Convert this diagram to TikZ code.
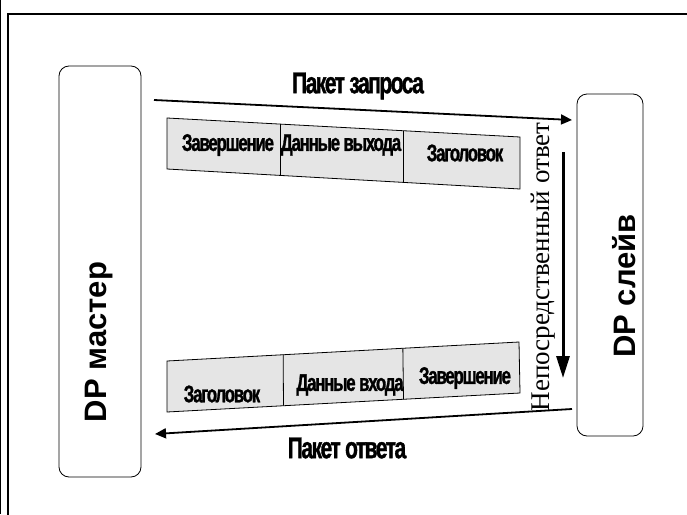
\documentclass[tikz,border=0pt]{standalone}
\usepackage{fontspec}
\setmainfont{Liberation Serif}
\newfontfamily\narrowfont[FakeStretch=0.7,LetterSpace=-5,BoldFeatures={FakeBold=1.2}]{Liberation Sans}
\newfontfamily\headfont{Liberation Sans}
\usetikzlibrary{positioning}
\usetikzlibrary{calc}
\usetikzlibrary{arrows.meta}

\tikzset{
	station/.style={rectangle, rounded corners=10pt, draw=black, line width=0.8pt},
	stationText/.style={rotate=90, inner sep=0pt, font=\headfont\bfseries\fontsize{31}{31}\selectfont},
	packet/.style={fill=gray!20, draw=black, line width=0.8pt},
	field/.style={inner sep=0pt, font=\narrowfont\bfseries\fontsize{24}{24}\selectfont},
	packetTitle/.style={inner sep=0pt, font=\narrowfont\bfseries\fontsize{30}{30}\selectfont},
	flow/.style={line width=1.8pt, -{Triangle[length=11pt, width=10pt]}}
}

\begin{document}
\begin{tikzpicture}[x=1pt, y=-1pt]
		\clip (0,0) rectangle (687,514);

		% frame
		\draw[line width=0.8pt] (0.7,0) -- (0.7,514);
		\draw[line width=2pt] (8,530) -- (8,14) -- (700,14);

		\node[station, minimum width=82pt, minimum height=411pt](master) at (100,271.5){};
		\node[station, minimum width=66pt, minimum height=342pt](slave) at (610,265){};
		\node[stationText](masterText) at (99,342){DP мастер};
		\node[stationText](slaveText) at (624,286){DP слейв};

		% packet outlines
		\coordinate (outTL) at (167,118);
		\coordinate (outTR) at (520,137);
		\coordinate (outBR) at (520,189);
		\coordinate (outBL) at (167,169);
		\coordinate (inTL) at (167,361);
		\coordinate (inTR) at (519,342);
		\coordinate (inBR) at (520,393);
		\coordinate (inBL) at (167,412);

		\draw[packet] (outTL) -- (outTR) -- (outBR) -- (outBL) -- cycle;
		\draw[packet] (inTL) -- (inTR) -- (inBR) -- (inBL) -- cycle;

		% field borders
		\draw[line width=0.8pt] ($(outTL)!0.32!(outTR)$) -- ($(outBL)!0.32!(outBR)$);
		\draw[line width=0.8pt] ($(outTL)!0.669!(outTR)$) -- ($(outBL)!0.669!(outBR)$);
		\draw[line width=0.8pt] ($(inTL)!0.33!(inTR)$) -- ($(inBL)!0.33!(inBR)$);
		\draw[line width=0.8pt] ($(inTL)!0.67!(inTR)$) -- ($(inBL)!0.67!(inBR)$);

		\node[field](outEnd) at (228,145){Завершение};
		\node[field](outData) at (341,145){Данные выхода};
		\node[field](outHead) at (465,153){Заголовок};
		\node[field](inHead) at (222,394){Заголовок};
		\node[field](inData) at (350,385){Данные входа};
		\node[field](inEnd) at (465,378){Завершение};

		\node[packetTitle](reqText) at (358,86){Пакет запроса};
		\node[packetTitle](ansText) at (347,448){Пакет ответа};
		\node[rotate=90, inner sep=0pt, font=\fontsize{27}{27}\selectfont](directText) at (543,267){Непосредственный ответ};

		% arrow ends
		\coordinate (reqStart) at (154,100);
		\coordinate (reqEnd) at (572,120);
		\coordinate (ansStart) at (572,409);
		\coordinate (ansEnd) at (155,434);
		\coordinate (directStart) at (563,152);
		\coordinate (directEnd) at (563,378);

		% draw flow edges
		\draw[flow] (reqStart) -- (reqEnd);
		\draw[flow] (ansStart) -- (ansEnd);
		\draw[line width=3pt, -{Triangle[length=22pt, width=13pt]}] (directStart) -- (directEnd);

	\end{tikzpicture}
\end{document}
